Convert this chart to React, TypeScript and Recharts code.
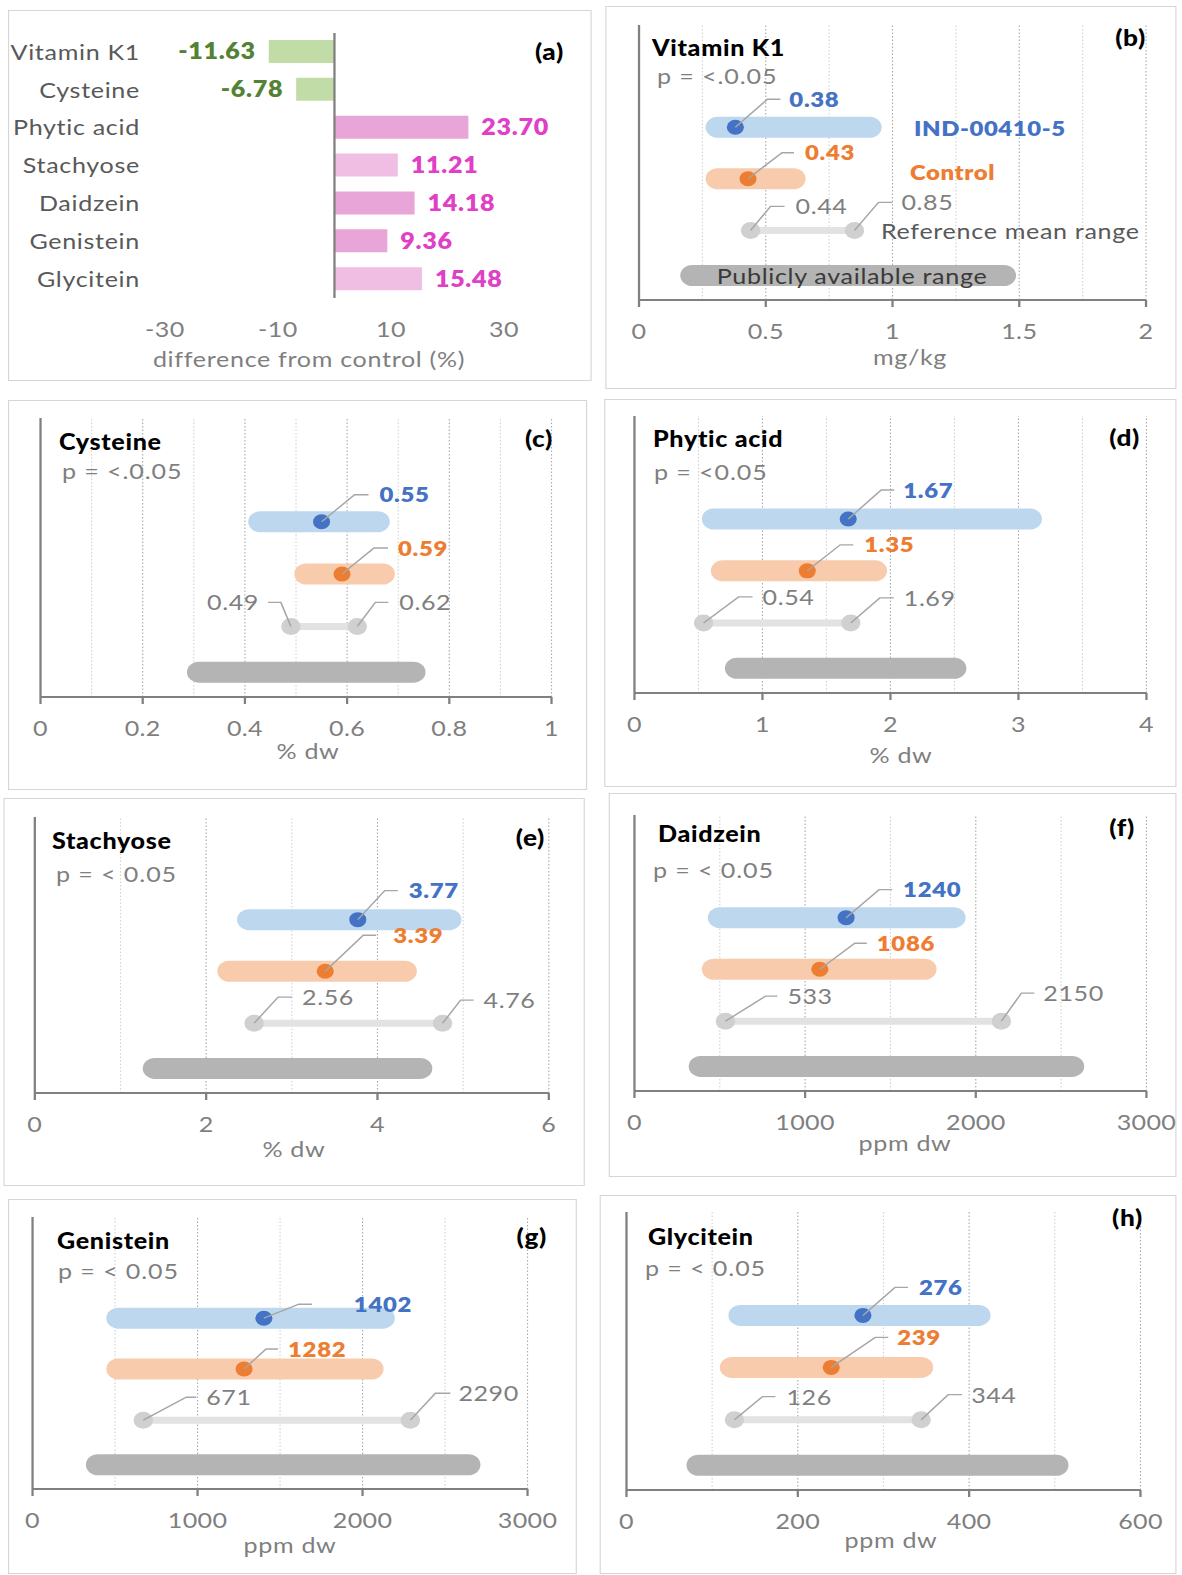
import React from 'react';
import {
  BarChart,
  Bar,
  ComposedChart,
  Line,
  Scatter,
  XAxis,
  YAxis,
  ReferenceLine,
  Cell,
  LabelList,
} from 'recharts';

// horizontal stretch of the reference picture
const S = 1.14;
const ux = (px: number) => px / S;
const FONT = 'Lato, "Open Sans", "DejaVu Sans", sans-serif';

// ---------------- Panel (a) data ----------------
const diffCategories = ['Vitamin K1', 'Cysteine', 'Phytic acid', 'Stachyose', 'Daidzein', 'Genistein', 'Glycitein'];
const diffValues = [-11.63, -6.78, 23.7, 11.21, 14.18, 9.36, 15.48];
const diffTicks = [-30, -10, 10, 30];
const diffAxisTitle = 'difference from control (%)';

// ---------------- Panels (b)-(h) data ----------------
const panelLetters = ['b', 'c', 'd', 'e', 'f', 'g', 'h'];
const nutrients = ['Vitamin K1', 'Cysteine', 'Phytic acid', 'Stachyose', 'Daidzein', 'Genistein', 'Glycitein'];
const pValueTexts = ['p = <.0.05', 'p = <.0.05', 'p = <0.05', 'p = < 0.05', 'p = < 0.05', 'p = < 0.05', 'p = < 0.05'];
const unitLabels = ['mg/kg', '% dw', '% dw', '% dw', 'ppm dw', 'ppm dw', 'ppm dw'];
const indMeans = [0.38, 0.55, 1.67, 3.77, 1240, 1402, 276];
const indLow = [0.31, 0.43, 0.62, 2.5, 500, 520, 133];
const indHigh = [0.91, 0.66, 3.09, 4.84, 1870, 2123, 411];
const ctrlMeans = [0.43, 0.59, 1.35, 3.39, 1086, 1282, 239];
const ctrlLow = [0.31, 0.52, 0.69, 2.27, 465, 520, 123];
const ctrlHigh = [0.61, 0.67, 1.88, 4.32, 1700, 2055, 344];
const refLow = [0.44, 0.49, 0.54, 2.56, 533, 671, 126];
const refHigh = [0.85, 0.62, 1.69, 4.76, 2150, 2290, 344];
const pubLow = [0.21, 0.31, 0.8, 1.4, 388, 396, 84];
const pubHigh = [1.44, 0.73, 2.5, 4.5, 2565, 2642, 502];
const axisMax = [2, 1, 4, 6, 3000, 3000, 600];
const axisTicks = [
  [0, 0.5, 1, 1.5, 2],
  [0, 0.2, 0.4, 0.6, 0.8, 1],
  [0, 1, 2, 3, 4],
  [0, 2, 4, 6],
  [0, 1000, 2000, 3000],
  [0, 1000, 2000, 3000],
  [0, 200, 400, 600],
];
const gridStep = [0.25, 0.1, 0.5, 1, 500, 500, 100];
const seriesNames = ['IND-00410-5', 'Control'];
const refRangeName = 'Reference mean range';
const pubRangeName = 'Publicly available range';

// ---------------- Layout (page pixels) ----------------
const boxA = { l: 8, t: 10, r: 592, b: 381 };
const plotA = { l: 165, r: 504, t: 33, b: 298 };
const boxes = [
  { l: 605, t: 6, r: 1177, b: 389 },
  { l: 8, t: 400, r: 587, b: 790 },
  { l: 604, t: 399, r: 1177, b: 787 },
  { l: 3, t: 798, r: 585, b: 1186 },
  { l: 609, t: 793, r: 1177, b: 1177 },
  { l: 8, t: 1199, r: 577, b: 1574 },
  { l: 600, t: 1195, r: 1177, b: 1574 },
];
const plotRects = [
  { l: 639, r: 1146, t: 25, b: 300 },
  { l: 41, r: 552, t: 418, b: 697 },
  { l: 635, r: 1147, t: 416, b: 693 },
  { l: 35, r: 549, t: 817, b: 1093 },
  { l: 635, r: 1147, t: 815, b: 1091 },
  { l: 33, r: 528, t: 1217, b: 1489 },
  { l: 626, r: 1140, t: 1212, b: 1490 },
];
// [titleLeft, titleCy, pLeft, pCy, letterRight, letterCy, unitCx, unitBaseline]
const titleLayout = [
  [652, 48, 657, 76, 1146, 38, 910, 365],
  [59, 442, 62, 471, 553, 439, 308, 759],
  [653, 439, 654, 472, 1140, 438, 901, 763],
  [52, 841, 56, 874, 545, 838, 294, 1157],
  [658, 834, 653, 870, 1135, 828, 905, 1151],
  [57, 1241, 58, 1271, 547, 1237, 290, 1553],
  [648, 1237, 645, 1268, 1143, 1218, 891, 1548],
];
// leader lines: [cornerDx, endDx, textDx, dy] (page px)
const leaders: Record<string, number[]>[] = [
  { ind: [32, 45, 54, -28], ctrl: [34, 46, 57, -26], refLo: [20, 34, 45, -24], refHi: [24, 38, 47, -28] },
  { ind: [33, 47, 58, -27], ctrl: [32, 46, 56, -26], refLo: [-10, -23, -32, -24], refHi: [18, 31, 42, -24] },
  { ind: [33, 46, 55, -29], ctrl: [33, 46, 57, -26], refLo: [35, 49, 59, -26], refHi: [29, 43, 53, -25] },
  { ind: [27, 40, 51, -29], ctrl: [38, 51, 68, -36], refLo: [24, 38, 48, -26], refHi: [18, 31, 41, -23] },
  { ind: [33, 46, 57, -28], ctrl: [35, 47, 57, -26], refLo: [40, 52, 62, -25], refHi: [20, 33, 42, -28] },
  { ind: [35, 48, 90, -14], ctrl: [22, 34, 44, -20], refLo: [43, 53, 63, -23], refHi: [25, 40, 48, -27] },
  { ind: [32, 45, 56, -28], ctrl: [44, 57, 66, -30], refLo: [28, 41, 52, -23], refHi: [27, 41, 50, -25] },
];
const ROW = { ind: 6.28, ctrl: 4.41, ref: 2.53, pub: 0.89 };

const C = {
  axis: '#808080',
  tick: '#7f7f7f',
  cat: '#595959',
  blueBar: '#bdd7ee',
  blueDot: '#4472c4',
  orangeBar: '#f8cbad',
  orangeDot: '#ed7d31',
  refBar: '#e2e2e2',
  refDot: '#d0d0d0',
  pubBar: '#b4b4b4',
  leader: '#a6a6a6',
  green: '#548235',
  greenBar: '#c2dca8',
  pink: '#e03fc6',
  pinkDark: '#e8a5d8',
  pinkLight: '#f0bde3',
  border: '#d6d6d6',
};
const diffBarColors = [C.greenBar, C.greenBar, C.pinkDark, C.pinkLight, C.pinkDark, C.pinkDark, C.pinkLight];

function gridValues(max: number, step: number) {
  const out: number[] = [];
  const n = Math.round(max / step);
  for (let k = 1; k <= n; k++) out.push(+(k * step).toFixed(6));
  return out;
}

// ---------------- Panel (a) ----------------
const renderDiffLabel = (props: any) => {
  const vb = props.viewBox || props;
  const x = Number(vb.x ?? props.x);
  const y = Number(vb.y ?? props.y);
  const w = Number(vb.width ?? props.width);
  const h = Number(vb.height ?? props.height);
  const value = Number(props.value);
  const left = Math.min(x, x + w);
  const right = Math.max(x, x + w);
  const neg = value < 0;
  const fs = 22;
  return (
    <text
      x={neg ? left - ux(13) : right + ux(13)}
      y={y + h / 2 + 0.36 * fs}
      textAnchor={neg ? 'end' : 'start'}
      fill={neg ? C.green : C.pink}
      fontSize={fs}
      fontWeight={800}
      fontFamily={FONT}
      letterSpacing={0.6}
    >
      {value.toFixed(2)}
    </text>
  );
};

function PanelA() {
  const data = diffCategories.map((name, i) => ({ name, value: diffValues[i] }));
  const chartL = boxA.l;
  const mT = 5;
  const axisH = 70;
  const w = boxA.r - chartL;
  const h = plotA.b - plotA.t + mT + axisH;
  return (
    <div style={{ position: 'absolute', left: ux(chartL), top: plotA.t - mT }}>
      <BarChart
        layout="vertical"
        width={ux(w)}
        height={h}
        data={data}
        margin={{ top: mT, right: ux(boxA.r - plotA.r), bottom: 0, left: 0 }}
      >
        <XAxis
          type="number"
          domain={[-30, 30]}
          ticks={diffTicks}
          interval={0}
          height={axisH}
          axisLine={false}
          tickLine={false}
          tickSize={0}
          tickMargin={23}
          tick={{ fill: C.tick, fontSize: 22, fontFamily: FONT, letterSpacing: 0.4 }}
        />
        <YAxis
          type="category"
          dataKey="name"
          width={ux(plotA.l - chartL)}
          axisLine={false}
          tickLine={false}
          tickSize={0}
          tickMargin={ux(25)}
          interval={0}
          tick={{ fill: C.cat, fontSize: 22, fontFamily: FONT, letterSpacing: 0.6 }}
        />
        <Bar dataKey="value" barSize={23} isAnimationActive={false}>
          {data.map((d, i) => (
            <Cell key={d.name} fill={diffBarColors[i]} />
          ))}
          <LabelList dataKey="value" content={renderDiffLabel} />
        </Bar>
        <ReferenceLine x={0} stroke={C.axis} strokeWidth={2} />
      </BarChart>
    </div>
  );
}

// ---------------- Panels (b)-(h) ----------------
function makeMarker(panel: number, fill: string, r: number, textColor: string, bold: boolean, fs: number) {
  return (props: any) => {
    const { cx, cy, payload } = props;
    if (cx == null || cy == null || !payload) return <g />;
    const [c, e, t, dy] = leaders[panel][payload.key];
    const ly = cy + dy;
    return (
      <g>
        <circle cx={cx} cy={cy} r={r} fill={fill} />
        <polyline
          points={`${cx},${cy} ${cx + ux(c)},${ly} ${cx + ux(e)},${ly}`}
          fill="none"
          stroke={C.leader}
          strokeWidth={1.4}
        />
        <text
          x={cx + ux(t)}
          y={ly + 0.36 * fs}
          textAnchor={t < 0 ? 'end' : 'start'}
          fill={textColor}
          fontSize={fs}
          fontWeight={bold ? 800 : 400}
          fontFamily={FONT}
          letterSpacing={bold ? 0.6 : 0.5}
        >
          {payload.label}
        </text>
      </g>
    );
  };
}

function DotPanel({ i }: { i: number }) {
  const P = plotRects[i];
  const padL = 20;
  const padR = 30;
  const mT = 10;
  const axisH = 70;
  const w = P.r - P.l + padL + padR;
  const h = P.b - P.t + mT + axisH;
  const max = axisMax[i];
  const ticks = axisTicks[i];
  const grid = gridValues(max, gridStep[i]);
  const isMajor = (v: number) => ticks.some((t) => Math.abs(t - v) < 1e-6);
  const rng = (lo: number, hi: number, y: number) => [
    { x: lo, y },
    { x: hi, y },
  ];
  const refPts = [
    { x: refLow[i], y: ROW.ref, key: 'refLo', label: String(refLow[i]) },
    { x: refHigh[i], y: ROW.ref, key: 'refHi', label: String(refHigh[i]) },
  ];
  const ctrlPts = [{ x: ctrlMeans[i], y: ROW.ctrl, key: 'ctrl', label: String(ctrlMeans[i]) }];
  const indPts = [{ x: indMeans[i], y: ROW.ind, key: 'ind', label: String(indMeans[i]) }];
  return (
    <div style={{ position: 'absolute', left: ux(P.l - padL), top: P.t - mT }}>
      <ComposedChart width={ux(w)} height={h} margin={{ top: mT, right: ux(padR), bottom: 0, left: ux(padL) }}>
        <XAxis
          type="number"
          dataKey="x"
          domain={[0, max]}
          ticks={ticks}
          interval={0}
          height={axisH}
          allowDataOverflow
          axisLine={{ stroke: C.axis, strokeWidth: 2 }}
          tickLine={{ stroke: C.axis, strokeWidth: 2 }}
          tickSize={7}
          tickMargin={16}
          tick={{ fill: C.tick, fontSize: 22, fontFamily: FONT, letterSpacing: 0.3 }}
        />
        <YAxis type="number" dataKey="y" domain={[0, 10]} hide />
        {grid.map((v) => (
          <ReferenceLine
            key={`g${v}`}
            x={v}
            stroke={isMajor(v) ? '#ababab' : '#d2d2d2'}
            strokeDasharray="1.5 2"
            strokeWidth={1}
          />
        ))}
        <Line
          data={rng(pubLow[i], pubHigh[i], ROW.pub)}
          dataKey="y"
          stroke={C.pubBar}
          strokeWidth={21}
          strokeLinecap="round"
          dot={false}
          activeDot={false}
          isAnimationActive={false}
        />
        <Line
          data={rng(refLow[i], refHigh[i], ROW.ref)}
          dataKey="y"
          stroke={C.refBar}
          strokeWidth={7}
          strokeLinecap="round"
          dot={false}
          activeDot={false}
          isAnimationActive={false}
        />
        <Line
          data={rng(ctrlLow[i], ctrlHigh[i], ROW.ctrl)}
          dataKey="y"
          stroke={C.orangeBar}
          strokeWidth={21}
          strokeLinecap="round"
          dot={false}
          activeDot={false}
          isAnimationActive={false}
        />
        <Line
          data={rng(indLow[i], indHigh[i], ROW.ind)}
          dataKey="y"
          stroke={C.blueBar}
          strokeWidth={21}
          strokeLinecap="round"
          dot={false}
          activeDot={false}
          isAnimationActive={false}
        />
        <ReferenceLine x={0} stroke={C.axis} strokeWidth={2} />
        <Scatter data={refPts} shape={makeMarker(i, C.refDot, 8.5, C.tick, false, 22)} isAnimationActive={false} />
        <Scatter data={ctrlPts} shape={makeMarker(i, C.orangeDot, 7.5, C.orangeDot, true, 21)} isAnimationActive={false} />
        <Scatter data={indPts} shape={makeMarker(i, C.blueDot, 7.5, C.blueDot, true, 21)} isAnimationActive={false} />
      </ComposedChart>
    </div>
  );
}

// ---------------- Overlay texts ----------------
type Txt = { t: string; x: number; y: number; a: 'start' | 'middle' | 'end'; fs: number; fw: number; c: string; ls: number };

function buildTexts(): Txt[] {
  const out: Txt[] = [];
  const cap = (cy: number, fs: number) => cy + 0.36 * fs;
  out.push({ t: '(a)', x: 564, y: cap(52, 23), a: 'end', fs: 23, fw: 900, c: '#000', ls: 0.6 });
  out.push({ t: diffAxisTitle, x: 309, y: 367, a: 'middle', fs: 22, fw: 400, c: C.tick, ls: 0.6 });
  titleLayout.forEach((L, i) => {
    out.push({ t: nutrients[i], x: L[0], y: cap(L[1], 22), a: 'start', fs: 22, fw: 900, c: '#000', ls: 0.6 });
    out.push({ t: pValueTexts[i], x: L[2], y: cap(L[3], 22), a: 'start', fs: 22, fw: 400, c: C.tick, ls: 0.8 });
    out.push({ t: `(${panelLetters[i]})`, x: L[4], y: cap(L[5], 23), a: 'end', fs: 23, fw: 900, c: '#000', ls: 0.6 });
    out.push({ t: unitLabels[i], x: L[6], y: L[7], a: 'middle', fs: 22, fw: 400, c: C.tick, ls: 0.6 });
  });
  out.push({ t: seriesNames[0], x: 914, y: cap(128, 21), a: 'start', fs: 21, fw: 800, c: C.blueDot, ls: 0.5 });
  out.push({ t: seriesNames[1], x: 910, y: cap(172, 21), a: 'start', fs: 21, fw: 800, c: C.orangeDot, ls: 0.5 });
  out.push({ t: refRangeName, x: 881, y: cap(231, 22), a: 'start', fs: 22, fw: 400, c: '#595959', ls: 0.6 });
  out.push({ t: pubRangeName, x: 852, y: cap(276, 22), a: 'middle', fs: 22, fw: 400, c: '#3a3a3a', ls: 0.6 });
  return out;
}

export default function App() {
  const texts = buildTexts();
  const allBoxes = [boxA, ...boxes];
  return (
    <div
      style={{
        position: 'absolute',
        left: 0,
        top: 0,
        width: ux(1182),
        height: 1574,
        transform: `scaleX(${S})`,
        transformOrigin: '0 0',
        background: '#ffffff',
        fontFamily: FONT,
        overflow: 'hidden',
      }}
    >
      {allBoxes.map((b, k) => (
        <div
          key={`box${k}`}
          style={{
            position: 'absolute',
            left: ux(b.l),
            top: b.t,
            width: ux(b.r - b.l),
            height: b.b - b.t,
            border: `1px solid ${C.border}`,
            boxSizing: 'border-box',
          }}
        />
      ))}
      <PanelA />
      {plotRects.map((_, i) => (
        <DotPanel key={`p${i}`} i={i} />
      ))}
      <svg
        width={ux(1182)}
        height={1574}
        style={{ position: 'absolute', left: 0, top: 0, pointerEvents: 'none' }}
      >
        {texts.map((t, k) => (
          <text
            key={`t${k}`}
            x={ux(t.x)}
            y={t.y}
            textAnchor={t.a}
            fontSize={t.fs}
            fontWeight={t.fw}
            fill={t.c}
            fontFamily={FONT}
            letterSpacing={t.ls}
          >
            {t.t}
          </text>
        ))}
      </svg>
    </div>
  );
}
